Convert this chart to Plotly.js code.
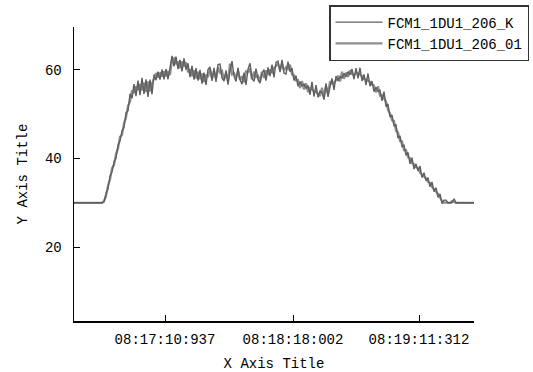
<!DOCTYPE html>
<html><head><meta charset="utf-8">
<script src="https://cdn.plot.ly/plotly-3.0.1.min.js"></script>
<style>html,body{margin:0;padding:0;background:#fff}#chart{width:533px;height:372px}</style>
</head><body><div id="chart"></div>
<script>
// sample numbers (every 2nd sample)
var sampleStep = 2;
var seriesNames = ["FCM1_1DU1_206_K", "FCM1_1DU1_206_01"];
var tickPositions = [91, 219, 345];
var tickLabels = ["08:17:10:937", "08:18:18:002", "08:19:11:312"];

var valuesK = [
30,30,30,30,30,30,30,30,30,30,30,30,30,30,30,
30.2,32.1,33.2,36.0,37.0,39.2,40.1,43.0,44.0,46.2,47.0,50.3,50.8,54.6,53.6,56.8,
54.1,57.6,54.3,58.2,54.6,57.9,53.9,57.8,54.5,
58.9,57.7,59.6,57.8,60.1,57.9,60.2,57.9,60.4,
63.2,60.8,63.0,60.2,62.3,59.7,62.6,60.1,61.5,58.4,60.9,57.8,60.4,57.6,60.0,56.9,59.4,56.6,60.1,60.7,57.5,60.5,57.3,61.2,61.3,58.2,57.5,59.9,56.7,59.8,62.0,58.6,57.4,60.5,57.9,56.8,59.4,56.6,60.2,61.5,58.1,57.4,60.3,57.8,57.0,59.2,60.1,57.6,60.6,58.6,61.2,58.3,61.7,62.0,59.5,62.3,59.3,59.1,61.9,59.6,
60.4,57.6,58.7,56.3,57.4,56.4,56.8,55.9,56.5,54.4,57.3,54.0,56.6,53.8,55.2,54.9,53.3,57.0,53.9,56.2,58.1,55.5,58.6,57.5,58.5,58.2,59.2,58.5,59.6,58.9,60.2,57.9,60.4,58.1,60.5,57.5,59.0,56.6,59.2,56.3,57.5,55.1,56.1,55.2,55.4,53.0,55.1,51.7,52.3,49.4,49.8,47.3,47.7,44.6,45.1,42.7,43.0,40.7,41.4,38.8,40.2,37.6,38.8,37.2,38.3,35.7,36.8,35.0,35.7,33.6,34.7,32.5,33.4,31.2,32.0,29.8,30.6,30.6,30.0,30.0,30.0,30.9,
30,30,30,30,30,30,30,30,30,30
];
var values01 = [
30,30,30,30,30,30,30,30,30,30,30,30,30,30,30,
30.4,31.5,33.9,35.2,37.8,38.5,41.0,42.2,44.9,45.3,48.0,49.2,51.9,52.8,55.4,54.8,
56.3,55.5,56.8,55.4,57.1,55.0,57.4,55.2,56.9,
58.1,59.3,58.3,59.4,58.5,59.7,58.6,59.5,58.9,
62.1,62.6,61.3,61.9,60.4,61.9,60.8,61.7,59.5,60.1,58.6,59.9,58.1,59.6,57.9,59.2,57.3,58.9,58.4,60.2,58.1,59.7,58.0,60.6,59.4,59.8,57.8,59.1,57.6,61.4,59.0,59.3,58.2,59.7,57.7,58.6,57.2,59.7,59.5,60.3,57.9,59.6,58.4,58.7,57.5,59.6,58.2,59.9,58.9,60.1,59.3,60.4,60.8,61.4,60.1,61.3,59.9,60.6,60.2,61.2,
59.0,58.8,57.6,57.7,55.9,57.5,55.6,57.0,55.0,55.9,55.6,55.2,55.1,54.6,54.1,56.0,54.0,56.3,54.7,57.4,56.9,57.1,57.7,58.7,57.4,59.6,58.0,59.4,58.4,59.9,59.1,58.8,59.3,59.3,58.9,58.6,57.9,57.9,57.6,57.3,56.7,56.5,54.9,56.3,54.2,54.3,53.6,52.9,51.0,50.1,48.6,48.5,46.3,45.9,43.9,43.9,41.9,41.9,40.3,40.1,39.0,38.7,38.1,37.8,36.8,36.4,35.8,35.5,34.7,34.5,33.6,33.1,32.5,32.0,31.2,30.4,30.0,30.1,30.0,30.0,30.4,30.2,
30,30,30,30,30,30,30,30,30,30
];

var xs = valuesK.map(function(_, i){ return i * sampleStep; });

var traces = [
  {x: xs, y: values01, name: seriesNames[1], type: "scatter", mode: "lines",
   line: {color: "#8f8f8f", width: 2.2}},
  {x: xs, y: valuesK, name: seriesNames[0], type: "scatter", mode: "lines",
   line: {color: "#5f5f5f", width: 1.4}}
];

var fontMono = "Liberation Mono, DejaVu Sans Mono, monospace";
var layout = {
  width: 533, height: 372,
  margin: {l: 74, r: 59, t: 27, b: 51, autoexpand: false},
  paper_bgcolor: "#fff", plot_bgcolor: "#fff",
  font: {family: fontMono, size: 14, color: "#000"},
  showlegend: true,
  legend: {
    xref: "container", yref: "container",
    x: 529/533, y: 1 - 5/372, xanchor: "right", yanchor: "top",
    bordercolor: "#333", borderwidth: 1.5, bgcolor: "#fff",
    traceorder: "reversed",
    font: {family: fontMono, size: 14, color: "#000"},
    itemwidth: 47, tracegroupgap: 0
  },
  xaxis: {
    range: [0, 400], showgrid: false, zeroline: false,
    showline: true, linecolor: "#000", linewidth: 1.5,
    ticks: "inside", ticklen: 6, tickcolor: "#000", tickwidth: 1,
    tickmode: "array", tickvals: tickPositions, ticktext: tickLabels,
    tickangle: 0, ticklabelstandoff: 5, automargin: false,
    title: {text: "X Axis Title", font: {family: fontMono, size: 14, color: "#000"}, standoff: 11}
  },
  yaxis: {
    range: [3.3, 69.7], showgrid: false, zeroline: false,
    showline: true, linecolor: "#000", linewidth: 1.5,
    ticks: "inside", ticklen: 6, tickcolor: "#000", tickwidth: 1,
    tickmode: "array", tickvals: [20, 40, 60],
    ticklabelstandoff: 8, automargin: false,
    title: {text: "Y Axis Title", font: {family: fontMono, size: 14, color: "#000"}, standoff: 14}
  }
};
Plotly.newPlot("chart", traces, layout, {displayModeBar: false, staticPlot: true});
</script></body></html>
